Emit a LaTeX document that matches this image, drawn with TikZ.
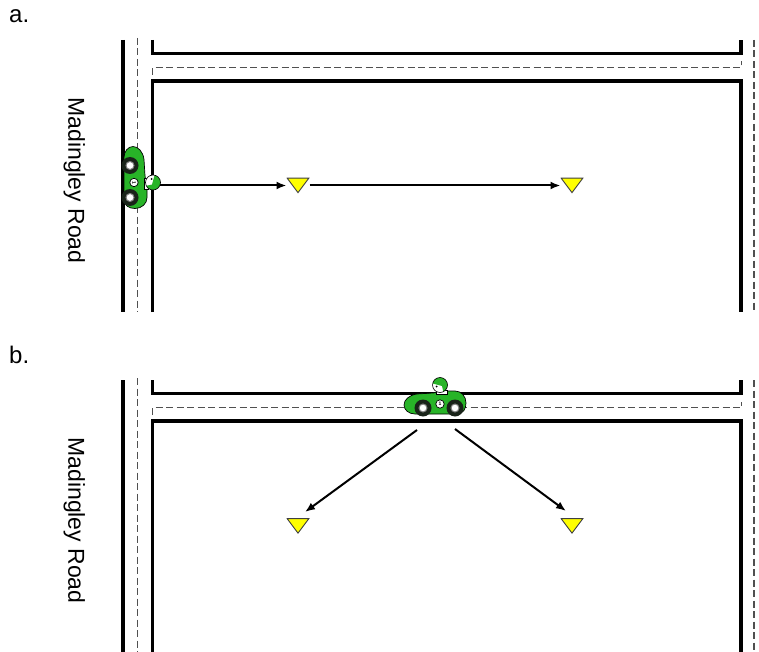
\documentclass[tikz,border=0pt]{standalone}
\usepackage{fontspec}
\setmainfont{Liberation Sans}
\usetikzlibrary{arrows.meta}

\definecolor{carGreen}{RGB}{40,180,40}
\definecolor{tyre}{RGB}{25,35,25}
\definecolor{laneGray}{RGB}{80,80,80}
\definecolor{markYellow}{RGB}{255,255,0}

\tikzset{
  kerb/.style={line width=3.4pt, line cap=butt, line join=miter},
  lane/.style={line width=1.6pt, draw=laneGray, dash pattern=on 7pt off 3.5pt},
  route/.style={line width=2pt, -{Latex[length=10pt,width=8pt]}},
  marker/.style={minimum width=23pt, minimum height=16pt, inner sep=0pt, outer sep=0pt,
    path picture={\filldraw[fill=markYellow, draw=black!75, line width=0.9pt]
      ([shift={(0.6pt,-0.6pt)}]path picture bounding box.north west)
      -- ([shift={(-0.6pt,-0.6pt)}]path picture bounding box.north east)
      -- ([yshift=0.9pt]path picture bounding box.south) -- cycle;}},
  panellabel/.style={font=\fontsize{24}{28}\selectfont, anchor=base west, inner sep=0pt},
  roadname/.style={font=\fontsize{23}{27}\selectfont, rotate=-90, anchor=base, inner sep=0pt},
  car/.pic={
    % body
    \filldraw[fill=carGreen, draw=black, line width=0.7pt]
      (-22,-9) .. controls (-30,-8) and (-35,-3) .. (-35,2)
      .. controls (-35,7) and (-30,11) .. (-24,11) -- (18,11)
      .. controls (24,11) and (27,6) .. (27,0)
      .. controls (27,-7) and (22,-12) .. (16,-12) -- (8,-12) -- (-6,-10) -- cycle;
    % driver
    \filldraw[fill=white, draw=black, line width=0.5pt] (-3,-13) rectangle (8,-9);
    \begin{scope}
      \clip (1,-18) circle (7.5);
      \fill[white] (1,-18) circle (7.5);
      \fill[carGreen] (-8,-28) -- (10,-28) -- (10,-8) -- (5,-8) -- (3,-17) -- (-8,-20) -- cycle;
    \end{scope}
    \draw[line width=0.6pt] (1,-18) circle (7.5);
    \fill (-2.5,-16.5) circle (1);
    % number plate
    \filldraw[fill=white, draw=black, line width=0.7pt] (1,1) circle (4.2);
    \node[font=\fontsize{5}{5}\selectfont\bfseries, inner sep=0pt, transform shape] at (1,1) {1};
    % wheels
    \foreach \wx in {-16,16} {
      \fill[tyre] (\wx,5) circle (8.5);
      \filldraw[fill=white, draw=gray, line width=1pt] (\wx,5) circle (4);
    }
  }
}

\begin{document}
\begin{tikzpicture}[x=1pt, y=-1pt]
  \useasboundingbox (0,0) rectangle (759,652);

  % the two street layouts
  \foreach \oy/\lab in {0/a, 340/b} {
    \begin{scope}[shift={(0,\oy)}]
      \node[panellabel] (lab-\lab) at (9,23) {\lab.};
      \node[roadname] (road-\lab) at (68.3,180.5) {Madingley Road};
      % kerbs
      \draw[kerb] (123,40) -- (123,312);
      \draw[kerb] (152.5,40) -- (152.5,53.5) -- (741,53.5) -- (741,40);
      \draw[kerb] (152.5,312) -- (152.5,81) -- (741,81) -- (741,312);
      % centre lines
      \draw[lane] (137.5,38) -- (137.5,312);
      \draw[lane] (152.5,75) -- (152.5,67.5) -- (741.5,67.5) -- (741.5,61.5);
      \draw[lane] (754,40) -- (754,312);
    \end{scope}
  }

  % panel a: car on Madingley Road facing east
  \pic[rotate=-90] at (135,181.5) {car};
  \coordinate (carA) at (160,185.5);
  \node[marker] (a1) at (298,185.5) {};
  \node[marker] (a2) at (572,185.5) {};
  \draw[route] (carA) -- (a1);
  \draw[route] (a1) -- (a2);

  % panel b: car on the side street
  \pic at (439,403) {car};
  \coordinate (carBl) at (417,430);
  \coordinate (carBr) at (455,429);
  \node[marker] (b1) at (298,526) {};
  \node[marker] (b2) at (572,526) {};
  \draw[route] (carBl) -- ([shift={(7,-14)}]b1.center);
  \draw[route] (carBr) -- ([shift={(-6,-15)}]b2.center);
\end{tikzpicture}
\end{document}
